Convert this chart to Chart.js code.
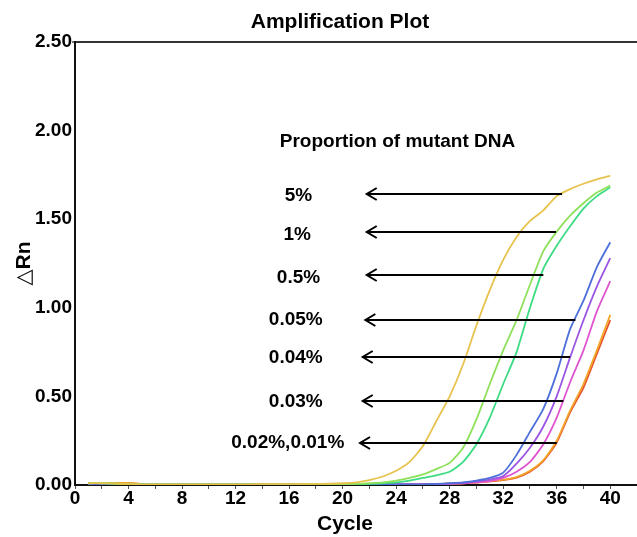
<!DOCTYPE html>
<html>
<head>
<meta charset="utf-8">
<script src="https://cdn.jsdelivr.net/npm/chart.js@4/dist/chart.umd.min.js"></script>
<style>
  html, body { margin: 0; padding: 0; background: #fff; }
  #wrap { width: 637px; height: 537px; }
</style>
</head>
<body>
<div id="wrap"><canvas id="chart"></canvas></div>
<script>
const cycles = [1,2,3,4,5,6,7,8,9,10,11,12,13,14,15,16,17,18,19,20,21,22,23,24,25,26,27,28,29,30,31,32,33,34,35,36,37,38,39,40];

// delta Rn per cycle, one array per template proportion
const rn5 = [0.010,0.010,0.008,0.005,0.004,0.004,0.004,0.004,0.004,0.004,0.004,0.004,0.004,0.005,0.005,0.005,0.006,0.006,0.007,0.010,0.015,0.028,0.048,0.080,0.130,0.220,0.360,0.500,0.680,0.900,1.100,1.270,1.400,1.490,1.550,1.630,1.670,1.700,1.725,1.745];
const rn1 = [0.012,0.012,0.008,0.005,0.004,0.004,0.004,0.004,0.004,0.004,0.004,0.004,0.004,0.004,0.004,0.004,0.004,0.004,0.004,0.004,0.006,0.010,0.015,0.025,0.040,0.060,0.090,0.125,0.210,0.370,0.570,0.760,0.930,1.130,1.320,1.430,1.520,1.590,1.650,1.690];
const rn05 = [0.010,0.010,0.008,0.005,0.004,0.004,0.004,0.004,0.004,0.004,0.004,0.004,0.004,0.004,0.004,0.004,0.004,0.004,0.004,0.004,0.004,0.006,0.010,0.015,0.025,0.040,0.055,0.075,0.130,0.230,0.380,0.570,0.750,1.000,1.220,1.350,1.460,1.560,1.630,1.680];
const rn005 = [0.006,0.006,0.005,0.004,0.004,0.004,0.004,0.004,0.004,0.004,0.004,0.004,0.004,0.004,0.004,0.004,0.004,0.004,0.004,0.004,0.004,0.004,0.004,0.004,0.004,0.004,0.006,0.010,0.015,0.025,0.040,0.070,0.170,0.300,0.430,0.630,0.880,1.040,1.230,1.370];
const rn004 = [0.006,0.006,0.005,0.004,0.004,0.004,0.004,0.004,0.004,0.004,0.004,0.004,0.004,0.004,0.004,0.004,0.004,0.004,0.004,0.004,0.004,0.004,0.004,0.004,0.004,0.004,0.005,0.008,0.012,0.020,0.030,0.050,0.120,0.210,0.330,0.500,0.720,0.930,1.120,1.280];
const rn003 = [0.006,0.006,0.005,0.004,0.004,0.004,0.004,0.004,0.004,0.004,0.004,0.004,0.004,0.004,0.004,0.004,0.004,0.004,0.004,0.004,0.004,0.004,0.004,0.004,0.004,0.004,0.005,0.007,0.010,0.015,0.022,0.040,0.075,0.130,0.230,0.380,0.580,0.760,0.980,1.150];
const rn002 = [0.008,0.010,0.012,0.012,0.006,0.004,0.004,0.004,0.004,0.004,0.004,0.004,0.004,0.004,0.004,0.004,0.004,0.004,0.004,0.004,0.004,0.004,0.004,0.004,0.004,0.004,0.005,0.007,0.010,0.015,0.022,0.030,0.045,0.080,0.140,0.250,0.420,0.570,0.760,0.960];
const rn001 = [0.006,0.008,0.011,0.011,0.006,0.004,0.004,0.004,0.004,0.004,0.004,0.004,0.004,0.004,0.004,0.004,0.004,0.004,0.004,0.004,0.004,0.004,0.004,0.004,0.004,0.004,0.005,0.007,0.010,0.014,0.020,0.028,0.042,0.075,0.135,0.240,0.410,0.550,0.740,0.930];

const seriesNames = ['5%', '1%', '0.5%', '0.05%', '0.04%', '0.03%', '0.02%', '0.01%'];
const seriesValues = [rn5, rn1, rn05, rn005, rn004, rn003, rn002, rn001];
const seriesColors = ['#e8c24e', '#8fe05a', '#3ddc84', '#4d6fd9', '#9b55e3', '#e055cf', '#f2a52a', '#e8512a'];

// annotation arrows: label, label position (cycle, dRn), arrow tip cycle, arrow tail cycle, arrow dRn
const arrowLabels = ['5%', '1%', '0.5%', '0.05%', '0.04%', '0.03%', '0.02%,0.01%'];
const labelCycle  = [16.7, 16.6, 16.7, 16.5, 16.5, 16.5, 15.9];
const labelRn     = [1.631, 1.411, 1.168, 0.931, 0.717, 0.468, 0.237];
const arrowTip    = [21.8, 21.8, 21.8, 21.7, 21.5, 21.5, 21.3];
const arrowTail   = [36.4, 35.95, 35.0, 37.4, 37.0, 36.5, 36.0];
const arrowRn     = [1.642, 1.428, 1.185, 0.931, 0.722, 0.474, 0.237];
const annotTitle = 'Proportion of mutant DNA';
const annotTitlePos = [24.1, 1.936];

const bold = (size) => ({ family: 'Liberation Sans, Arial, sans-serif', size: size, weight: 'bold', lineHeight: 1 });

const annotations = {
    id: 'annotations',
    afterDatasetsDraw(chart) {
        const { ctx, scales: { x, y } } = chart;
        ctx.save();
        ctx.fillStyle = '#000';
        ctx.strokeStyle = '#000';
        ctx.textBaseline = 'middle';
        ctx.textAlign = 'center';

        ctx.font = 'bold 19px "Liberation Sans", Arial, sans-serif';
        ctx.fillText(annotTitle, x.getPixelForValue(annotTitlePos[0]), y.getPixelForValue(annotTitlePos[1]));

        ctx.lineWidth = 2;
        arrowLabels.forEach((txt, i) => {
            ctx.fillText(txt, x.getPixelForValue(labelCycle[i]), y.getPixelForValue(labelRn[i]));
            const yy = Math.round(y.getPixelForValue(arrowRn[i]));
            const x0 = x.getPixelForValue(arrowTip[i]);
            const x1 = x.getPixelForValue(arrowTail[i]);
            ctx.beginPath();
            ctx.moveTo(x1, yy);
            ctx.lineTo(x0, yy);
            ctx.moveTo(x0 + 10, yy - 6);
            ctx.lineTo(x0, yy);
            ctx.lineTo(x0 + 10, yy + 6);
            ctx.stroke();
        });
        ctx.restore();
    },
    afterDraw(chart) {
        const { ctx } = chart;
        ctx.save();
        ctx.fillStyle = '#000';
        ctx.textAlign = 'center';
        ctx.textBaseline = 'middle';
        ctx.font = 'bold 21px "Liberation Sans", Arial, sans-serif';
        ctx.fillText('Amplification Plot', 340, 22);
        ctx.font = 'bold 21px "Liberation Sans", Arial, sans-serif';
        ctx.fillText('Cycle', 345, 524);
        ctx.restore();
    }
};

new Chart(document.getElementById('chart'), {
    type: 'line',
    data: {
        labels: cycles,
        datasets: seriesValues.map((vals, i) => ({
            label: seriesNames[i],
            data: cycles.map((c, j) => ({ x: c, y: vals[j] })),
            borderColor: seriesColors[i],
            backgroundColor: seriesColors[i],
            borderWidth: 1.8,
            pointRadius: 0,
            tension: 0.2,
            fill: false
        }))
    },
    options: {
        responsive: true,
        maintainAspectRatio: false,
        animation: false,
        layout: { padding: { top: 42, left: 0, right: 0, bottom: 0 } },
        plugins: {
            legend: { display: false },
            title: { display: false },
            tooltip: { enabled: false }
        },
        scales: {
            x: {
                type: 'linear',
                min: 0, max: 42,
                afterFit: (scale) => { scale.height = 52; },
                ticks: {
                    stepSize: 2,
                    autoSkip: false,
                    maxRotation: 0,
                    padding: 0,
                    color: '#000',
                    font: bold(19),
                    callback: (v) => (v % 4 === 0 && v <= 40) ? String(v) : ''
                },
                grid: { drawOnChartArea: false, tickLength: 4, tickColor: '#555' },
                border: { color: '#111', width: 2 }
            },
            y: {
                min: 0, max: 2.5,
                afterFit: (scale) => { scale.width = 75; },
                ticks: {
                    stepSize: 0.25,
                    autoSkip: false,
                    padding: 0,
                    color: '#000',
                    font: bold(19),
                    callback: (v) => (Math.abs(v * 2 - Math.round(v * 2)) < 1e-6) ? v.toFixed(2) : ''
                },
                grid: {
                    drawOnChartArea: true,
                    tickLength: 3,
                    tickColor: '#777',
                    lineWidth: (c) => (c.tick && c.tick.value === 2.5) ? 2 : 0,
                    color: (c) => (c.tick && c.tick.value === 2.5) ? '#333' : 'rgba(0,0,0,0)'
                },
                border: { color: '#111', width: 2 },
                title: {
                    display: true,
                    text: '△Rn',
                    color: '#000',
                    font: { family: 'Liberation Sans, DejaVu Sans, sans-serif', size: 21, weight: 'bold', lineHeight: 1.2 },
                    padding: { top: 12, bottom: 0 }
                }
            }
        }
    },
    plugins: [annotations]
});
</script>
</body>
</html>
